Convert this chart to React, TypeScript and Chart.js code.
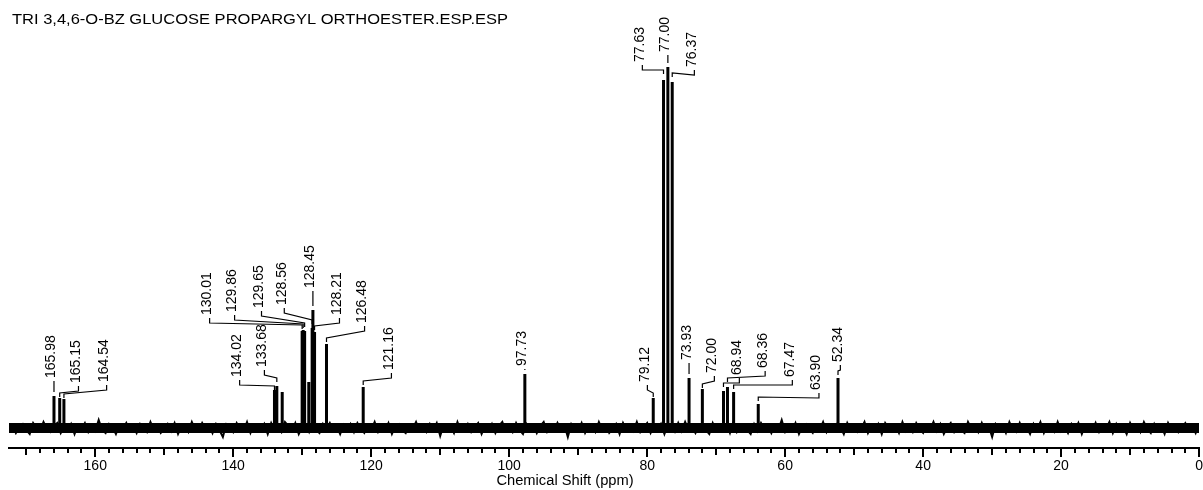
import React, { useEffect, useRef } from 'react';
import { Chart, registerables } from 'chart.js';

Chart.register(...registerables);

const chartTitle = 'TRI 3,4,6-O-BZ GLUCOSE PROPARGYL ORTHOESTER.ESP.ESP';
const axisTitle = 'Chemical Shift (ppm)';

// peak positions (ppm) and intensities (arbitrary units, baseline = 0)
const peakShifts = [165.98, 165.15, 164.54, 134.02, 133.68, 132.9, 130.01, 129.86, 129.65, 129.05, 128.56, 128.45, 128.21, 126.48, 121.16, 97.73, 79.12, 77.63, 77.0, 76.37, 73.93, 72.0, 68.94, 68.36, 67.47, 63.9, 52.34];
const peakHeights = [32, 30, 29, 38, 42, 36, 97, 98, 97, 46, 100, 118, 96, 84, 41, 54, 30, 348, 361, 346, 50, 39, 37, 41, 36, 24, 50];

// peak labels
const labelTexts = ['165.98', '165.15', '164.54', '134.02', '133.68', '130.01', '129.86', '129.65', '128.56', '128.45', '128.21', '126.48', '121.16', '97.73', '79.12', '77.63', '77.00', '76.37', '73.93', '72.00', '68.94', '68.36', '67.47', '63.90', '52.34'];

// baseline noise, sampled every 0.5 ppm from 172 ppm down to 0 ppm
const noiseStart = 172;
const noiseStep = 0.5;
const baselineNoise = [
  3, -5, 1, 4, -2, -6, 5, 0, -3, 6, -1, -4, 2, 5, -5, 1, -2, 4, -6, 3,
  -1, 5, -4, 2, -3, 8, -2, -5, 4, 1, -6, 3, -1, 5, -3, 2, -5, 4, 0, -4,
  6, -2, 3, -5, -1, 4, -3, 5, -6, 2, 1, -4, 6, -2, -3, 5, -1, 3, -5, 4,
  -2, -9, 4, 2, -4, 5, -1, -3, 6, -5, 3, 0, -2, 4, -6, 5, -3, 1, -4, 6,
  2, -3, 5, -6, 1, 3, -4, 6, -2, -5, 4, -1, 5, -3, 2, -6, 3, -2, 4, -4,
  5, -1, -5, 3, -2, 6, -4, 1, -3, 5, -6, 2, 4, -2, -5, 3, -1, 6, -3, 1,
  -4, 4, -2, 5, -8, 3, -1, 2, -5, 6, -3, -2, 4, -4, 1, 5, -6, 2, -3, 4,
  -5, 2, 6, -3, 1, -4, 5, -2, -6, 4, -1, 3, -5, 2, 6, -4, 0, -3, 5, -2,
  3, -9, 4, -1, -3, 5, -5, 2, 1, -4, 6, -2, 3, -5, -1, 4, -6, 5, -2, 2,
  -3, 6, -4, 1, 5, -5, 2, -2, 4, -6, 3, -1, -4, 5, -3, 6, -2, 1, -5, 3,
  4, -2, -6, 5, -3, 2, -1, 4, -5, 6, -4, 1, 3, -2, -6, 4, -3, 5, -1, 2,
  -5, 3, -2, 8, -4, 1, -3, 5, -6, 2, 4, -1, -5, 3, -2, 6, -4, 2, -3, 4,
  1, -6, 5, -2, 3, -4, -1, 6, -5, 2, -3, 4, -6, 5, 0, -2, 3, -5, 6, -3,
  2, -4, 5, -1, -5, 3, -2, 6, -3, 4, -6, 1, 5, -4, 2, -2, -5, 6, -1, 3,
  -4, 5, -3, 2, -9, 4, -1, 3, -5, 6, -2, -4, 5, -3, 1, -6, 4, -2, 6, -5,
  3, -1, -4, 6, -3, 2, -5, 4, -2, 5, -6, 3, 0, -3, 5, -4, 2, -1, 6, -5,
  4, -3, 1, -6, 5, -2, 3, -4, 6, -1, -5, 4, -3, 2, -6, 5, -2, 3, -4, 1,
  5, -3, 2, -5, 4,
];

// label layout: leader x (ppm), text bottom and elbow (intensity units); elbow null = straight dash
const labelLeaderPpm = [165.98, 162.43, 158.35, 139.07, 135.48, 143.42, 139.8, 135.9, 132.6, 128.45, 124.6, 120.96, 117.07, 97.73, 79.97, 80.7, 77.0, 73.16, 73.93, 70.26, 66.64, 62.9, 58.96, 55.1, 52.0];
const labelTextBottom = [50, 45, 46, 51, 61, 113, 116, 120, 123, 140, 113, 105, 58, 62, 46, 366, 376, 361, 68, 55, 53, 60, 51, 38, 66];
const labelElbow = [null, 35, 34, 42, 50, 103, 104, 105, 108, null, 102, 90, 47, null, 35, 358, null, 355, null, 44, 45, 50, 43, 31, 57];

const FONT = '"Liberation Sans", Arial, Helvetica, sans-serif';

export default function App() {
  const canvasRef = useRef<HTMLCanvasElement | null>(null);

  useEffect(() => {
    document.body.style.margin = '0';
    const canvas = canvasRef.current;
    if (!canvas) return;

    const noiseData = baselineNoise.map((v, i) => ({ x: noiseStart - i * noiseStep, y: v }));
    const peakData: any[] = [];
    peakShifts.forEach((p, i) => {
      peakData.push({ x: p, y: 0 });
      peakData.push({ x: p, y: peakHeights[i] });
      peakData.push({ x: p, y: null });
    });

    const overlay = {
      id: 'nmrOverlay',
      afterDraw(chart: any) {
        const ctx = chart.ctx as CanvasRenderingContext2D;
        const xs = chart.scales.x;
        const ys = chart.scales.y;
        ctx.save();
        ctx.fillStyle = '#000';
        ctx.strokeStyle = '#000';

        // tick marks
        for (const t of xs.ticks) {
          const v = t.value;
          const r = Math.round(v);
          if (Math.abs(v - r) > 1e-6 || r % 2 !== 0) continue;
          const len = r % 20 === 0 ? 9 : r % 10 === 0 ? 7 : 5;
          const px = Math.round(xs.getPixelForValue(r));
          ctx.fillRect(px - 1, xs.top, 2, len);
        }

        // title
        ctx.save();
        ctx.font = '15px ' + FONT;
        ctx.textBaseline = 'middle';
        ctx.textAlign = 'left';
        ctx.translate(12, 20);
        ctx.scale(1.1, 1);
        ctx.fillText(chartTitle, 0, 0);
        ctx.restore();

        // axis title
        ctx.save();
        ctx.font = '14px ' + FONT;
        ctx.textBaseline = 'middle';
        ctx.textAlign = 'center';
        ctx.translate(565, 481);
        ctx.scale(1.05, 1);
        ctx.fillText(axisTitle, 0, 0);
        ctx.restore();

        // peak labels with leaders
        ctx.lineWidth = 1.2;
        ctx.font = '14px ' + FONT;
        ctx.textAlign = 'left';
        ctx.textBaseline = 'alphabetic';
        labelTexts.forEach((txt, i) => {
          const peakPpm = parseFloat(txt);
          const lx = xs.getPixelForValue(labelLeaderPpm[i]);
          const px = xs.getPixelForValue(peakPpm);
          const tb = ys.getPixelForValue(labelTextBottom[i]);
          ctx.save();
          ctx.translate(lx + 1.5, tb);
          ctx.rotate(-Math.PI / 2);
          ctx.fillText(txt, 0, 0);
          ctx.restore();
          ctx.beginPath();
          const elbow = labelElbow[i];
          if (elbow === null) {
            const k = peakShifts.indexOf(peakPpm);
            const top = ys.getPixelForValue(peakHeights[k]);
            ctx.moveTo(lx, tb + 3);
            ctx.lineTo(lx, top - 4);
          } else {
            const ey = ys.getPixelForValue(elbow);
            ctx.moveTo(lx, tb + 3);
            ctx.lineTo(lx, tb + 8);
            ctx.lineTo(px, ey);
            ctx.lineTo(px, ey + 4);
          }
          ctx.stroke();
        });
        ctx.restore();
      },
    };

    const chart = new Chart(canvas, {
      type: 'line',
      data: {
        datasets: [
          {
            data: [{ x: 0, y: 0 }, { x: 172.5, y: 0 }],
            borderColor: '#000',
            borderWidth: 10,
            pointRadius: 0,
          },
          {
            data: noiseData,
            borderColor: '#000',
            borderWidth: 2,
            pointRadius: 0,
          },
          {
            data: peakData,
            borderColor: '#000',
            borderWidth: 3,
            pointRadius: 0,
            spanGaps: false,
            borderCapStyle: 'butt',
          },
        ],
      },
      options: {
        responsive: false,
        maintainAspectRatio: false,
        animation: false,
        devicePixelRatio: 1,
        layout: { padding: { top: 40, left: 9, right: 3, bottom: 0 } },
        plugins: { legend: { display: false }, tooltip: { enabled: false }, title: { display: false } },
        elements: { line: { tension: 0 } },
        scales: {
          x: {
            type: 'linear',
            reverse: true,
            min: 0,
            max: 172.5,
            grid: { display: false, drawTicks: true, tickLength: 10 },
            border: { display: true, color: '#000', width: 2 },
            afterFit: (scale: any) => {
              scale.height = 42;
            },
            ticks: {
              stepSize: 2,
              autoSkip: false,
              maxRotation: 0,
              minRotation: 0,
              padding: 0,
              color: '#000',
              font: { family: FONT, size: 14 },
              callback: (v: any) => (Math.round(v) % 20 === 0 && Math.abs(v - Math.round(v)) < 1e-6 ? String(Math.round(v)) : ''),
            },
          },
          y: {
            display: false,
            min: -20,
            max: 388,
          },
        },
      },
      plugins: [overlay],
    } as any);

    return () => chart.destroy();
  }, []);

  return (
    <div style={{ width: 1203, height: 490, background: '#fff' }}>
      <canvas ref={canvasRef} width={1203} height={490} style={{ display: 'block' }} />
    </div>
  );
}
